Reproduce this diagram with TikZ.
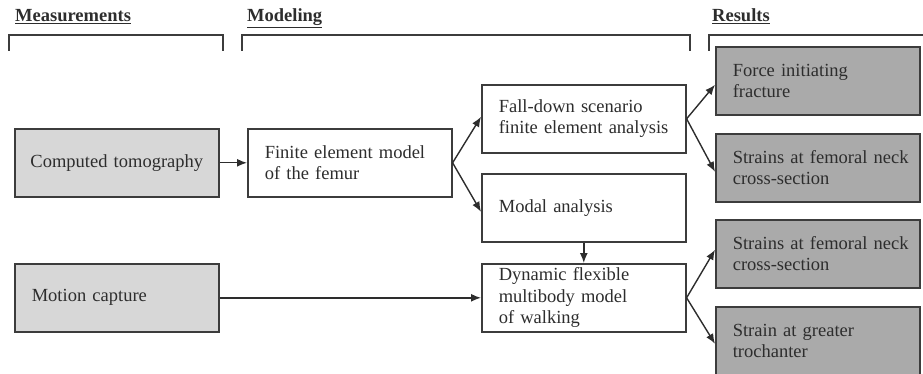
\documentclass[tikz,border=0pt]{standalone}
\usepackage{fontspec}
\setmainfont{Liberation Serif}
\usetikzlibrary{arrows.meta}
\definecolor{lightbox}{RGB}{215,215,215}
\definecolor{darkbox}{RGB}{170,170,170}
\definecolor{edge}{RGB}{60,60,60}
\definecolor{ink}{RGB}{45,45,45}
\newcommand{\indt}{\hspace*{12pt}}
\begin{document}
\begin{tikzpicture}[x=1pt,y=-1pt,
  every node/.style={font=\fontsize{18.5}{21.5}\selectfont, text=ink},
  box/.style={draw=edge, line width=1.6pt, rectangle, anchor=north west,
    inner xsep=5pt, inner ysep=0pt, align=left, minimum height=68pt,
    minimum width=204pt, text width=194pt},
  meas/.style={box, fill=lightbox},
  model/.style={box, fill=white},
  res/.style={box, fill=darkbox},
  hdr/.style={anchor=base west, inner sep=0pt, font=\fontsize{18.5}{21.5}\selectfont\bfseries},
  conn/.style={draw=ink, line width=1.4pt, -{Latex[length=10pt,width=8pt]}},
  brk/.style={draw=edge, line width=1.8pt}
]
\useasboundingbox (0,0) rectangle (923,374);

% headers
\node[hdr] (hmeas) at (15,22) {\underline{Measurements}};
\node[hdr] (hmod) at (247,22) {\underline{Modeling}};
\node[hdr] (hres) at (712,22) {\underline{Results}};

% brackets
\draw[brk] (9,51) -- (9,35) -- (223,35) -- (223,51);
\draw[brk] (242,51) -- (242,35) -- (690,35) -- (690,51);
\draw[brk] (709,51) -- (709,35) -- (925,35);

% measurement boxes
\node[meas, align=center] (ct) at (14,128) {Computed tomography};
\node[meas] (mc) at (14,263) {\indt Motion capture};

% modeling boxes
\node[model] (fem) at (247,128) {\indt Finite element model\\\indt of the femur};
\node[model] (fall) at (481,84) {\indt Fall-down scenario\\\indt finite element analysis};
\node[model] (modal) at (481,173) {\indt Modal analysis};
\node[model] (dyn) at (481,263) {\indt Dynamic flexible\\\indt multibody model\\\indt of walking};

% result boxes
\node[res] (force) at (715,46) {\indt Force initiating\\\indt fracture};
\node[res] (str1) at (715,133) {\indt Strains at femoral neck\\\indt cross-section};
\node[res] (str2) at (715,219) {\indt Strains at femoral neck\\\indt cross-section};
\node[res] (troch) at (715,306) {\indt Strain at greater\\\indt trochanter};

% connectors
\draw[conn] (ct.east) -- (fem.west);
\draw[conn] (fem.east) -- ([yshift=2pt]fall.west);
\draw[conn] (fem.east) -- ([yshift=-4pt]modal.west);
\draw[conn] (fall.east) -- ([yshift=-4pt]force.west);
\draw[conn] (fall.east) -- ([yshift=-4pt]str1.west);
\draw[conn] (modal.south) -- (dyn.north);
\draw[conn] (mc.east) -- (dyn.west);
\draw[conn] (dyn.east) -- ([yshift=4pt]str2.west);
\draw[conn] (dyn.east) -- ([yshift=-3pt]troch.west);
\end{tikzpicture}
\end{document}
